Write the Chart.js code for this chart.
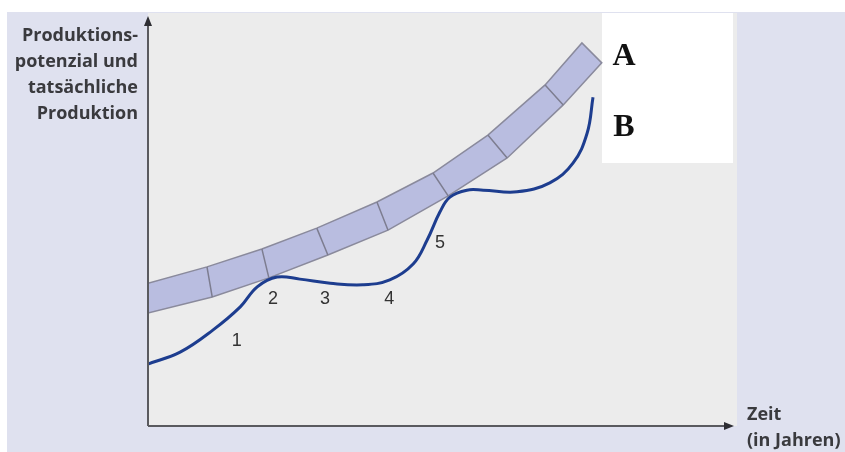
<!DOCTYPE html>
<html>
<head>
<meta charset="utf-8">
<script src="https://cdn.jsdelivr.net/npm/chart.js@4.4.1/dist/chart.umd.min.js"></script>
<style>
  html, body { margin: 0; padding: 0; background: #ffffff; }
  #wrap { position: relative; width: 845px; height: 452px; }
</style>
</head>
<body>
<div id="wrap"><canvas id="c"></canvas></div>
<script>
// ---- Data (x = Zeit, y = Produktion, both 0..100) ----
const bandTopX    = [0, 10.1, 19.5, 28.9, 39.2, 48.8, 58.2, 68.0, 74.3];
const bandTopY    = [35.0, 39.0, 43.4, 48.5, 54.9, 62.0, 71.3, 83.6, 93.9];
const bandBottomX = [0, 11.0, 20.7, 30.8, 41.1, 51.4, 61.5, 71.1, 77.7];
const bandBottomY = [27.7, 31.6, 36.3, 41.9, 48.0, 56.4, 65.7, 78.7, 89.0];

const curveX = [0, 5.5, 11.1, 15.8, 18.7, 22.1, 26.0, 31.2, 36.8, 41.4, 45.4, 47.8, 50.0, 51.7, 54.6, 57.4, 63.2, 68.8, 72.8, 75.2, 76.2];
const curveY = [15.2, 18.1, 23.5, 29.2, 34.1, 36.5, 36.0, 35.0, 34.6, 35.8, 39.7, 45.6, 52.5, 56.1, 57.8, 57.8, 57.4, 59.6, 64.5, 71.8, 80.6];

const markerLabels = ['1', '2', '3', '4', '5'];
const markerX = [15.2, 21.4, 30.3, 41.3, 50.0];
const markerY = [20.8, 31.1, 31.1, 31.1, 44.9];

const seriesLabels = ['A', 'B'];
const yTitleLines = ['Produktions-', 'potenzial und', 'tatsächliche', 'Produktion'];
const xTitleLines = ['Zeit', '(in Jahren)'];

// ---- Build datasets from the arrays ----
const bandPoints = [];
bandTopX.forEach((x, i) => bandPoints.push({ x: x, y: bandTopY[i] }));
for (let i = bandBottomX.length - 1; i >= 0; i--) bandPoints.push({ x: bandBottomX[i], y: bandBottomY[i] });
bandPoints.push({ x: bandTopX[0], y: bandTopY[0] });

const dividerPoints = [];
for (let i = 1; i < bandTopX.length - 1; i++) {
  dividerPoints.push({ x: bandTopX[i], y: bandTopY[i] });
  dividerPoints.push({ x: bandBottomX[i], y: bandBottomY[i] });
  dividerPoints.push({ x: bandBottomX[i], y: null });
}
const curvePoints = curveX.map((x, i) => ({ x: x, y: curveY[i] }));

// ---- Plugins ----
const backgroundPlugin = {
  id: 'bg',
  beforeDraw(chart) {
    const { ctx, chartArea: a } = chart;
    ctx.save();
    ctx.fillStyle = '#ffffff';
    ctx.fillRect(0, 0, chart.width, chart.height);
    ctx.fillStyle = '#dfe1ef';
    ctx.fillRect(7, 12, chart.width - 7, chart.height - 12);
    ctx.fillStyle = '#ececec';
    ctx.fillRect(a.left, a.top - 5, a.right - a.left + 5, a.bottom - a.top + 5);
    ctx.fillStyle = '#ffffff';
    ctx.fillRect(602, a.top - 5, 131, 150);
    ctx.restore();
  }
};

const axesPlugin = {
  id: 'axesArrows',
  afterDatasetsDraw(chart) {
    const { ctx } = chart;
    const xs = chart.scales.x, ys = chart.scales.y;
    const x0 = xs.getPixelForValue(xs.min), x1 = xs.getPixelForValue(xs.max);
    const y0 = ys.getPixelForValue(ys.min), y1 = ys.getPixelForValue(ys.max);
    ctx.save();
    ctx.strokeStyle = '#5a5a5f';
    ctx.fillStyle = '#2e2e33';
    ctx.lineWidth = 2;
    ctx.beginPath();
    ctx.moveTo(x0, y0); ctx.lineTo(x0, y1 + 4);
    ctx.moveTo(x0, y0); ctx.lineTo(x1 - 4, y0);
    ctx.stroke();
    ctx.beginPath();
    ctx.moveTo(x0, y1 - 2); ctx.lineTo(x0 - 4, y1 + 8); ctx.lineTo(x0 + 4, y1 + 8); ctx.closePath();
    ctx.fill();
    ctx.beginPath();
    ctx.moveTo(x1 + 2, y0); ctx.lineTo(x1 - 8, y0 - 4); ctx.lineTo(x1 - 8, y0 + 4); ctx.closePath();
    ctx.fill();
    ctx.restore();
  }
};

const textPlugin = {
  id: 'texts',
  afterDraw(chart) {
    const { ctx, chartArea: a } = chart;
    const xs = chart.scales.x, ys = chart.scales.y;
    ctx.save();
    // Y-axis title
    ctx.fillStyle = '#3a3a3e';
    ctx.font = 'bold 18px "Open Sans", sans-serif';
    ctx.textAlign = 'right';
    ctx.textBaseline = 'alphabetic';
    yTitleLines.forEach((t, i) => ctx.fillText(t, a.left - 10, a.top + 23 + i * 26));
    // X-axis title
    ctx.textAlign = 'left';
    xTitleLines.forEach((t, i) => ctx.fillText(t, a.right + 15, a.bottom - 6 + i * 26));
    // Markers 1..5
    ctx.fillStyle = '#333333';
    ctx.font = '18px "Liberation Sans", Arial, sans-serif';
    ctx.textAlign = 'center';
    ctx.textBaseline = 'middle';
    markerLabels.forEach((t, i) => ctx.fillText(t, xs.getPixelForValue(markerX[i]), ys.getPixelForValue(markerY[i])));
    // Series labels A / B
    ctx.fillStyle = '#111111';
    ctx.font = 'bold 32px "Liberation Serif", "Times New Roman", serif';
    ctx.textAlign = 'center';
    ctx.textBaseline = 'alphabetic';
    seriesLabels.forEach((t, i) => ctx.fillText(t, 624, a.top + 47 + i * 71));
    ctx.restore();
  }
};

new Chart(document.getElementById('c'), {
  type: 'line',
  data: {
    datasets: [
      {
        label: 'B',
        data: curvePoints,
        borderColor: '#1d3d8f',
        borderWidth: 3,
        tension: 0.4,
        pointRadius: 0,
        fill: false,
        order: 0
      },
      {
        label: 'Teilung',
        data: dividerPoints,
        borderColor: '#7d7d90',
        borderWidth: 1.5,
        tension: 0,
        pointRadius: 0,
        fill: false,
        spanGaps: false,
        order: 1
      },
      {
        label: 'A',
        data: bandPoints,
        borderColor: '#8a8a9c',
        backgroundColor: '#b9bde0',
        borderWidth: 1.5,
        tension: 0,
        pointRadius: 0,
        fill: 'shape',
        order: 2
      }
    ]
  },
  options: {
    responsive: true,
    maintainAspectRatio: false,
    animation: false,
    layout: { padding: { left: 148, top: 18, right: 113, bottom: 26 } },
    plugins: { legend: { display: false }, tooltip: { enabled: false } },
    scales: {
      x: { type: 'linear', min: 0, max: 100, display: false },
      y: { type: 'linear', min: 0, max: 100, display: false }
    }
  },
  plugins: [backgroundPlugin, axesPlugin, textPlugin]
});
</script>
</body>
</html>
